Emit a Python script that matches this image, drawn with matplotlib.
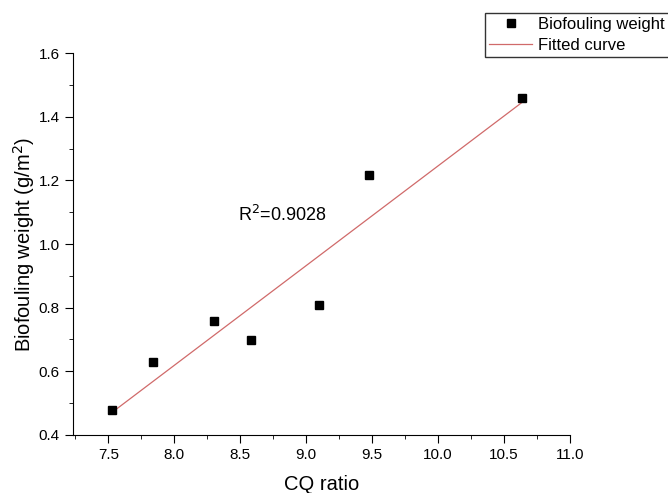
import numpy as np
import matplotlib
matplotlib.use("Agg")
import matplotlib.pyplot as plt
from matplotlib.ticker import MultipleLocator, FormatStrFormatter

plt.rcParams["font.family"] = ["Liberation Sans", "DejaVu Sans"]

cq = [7.53, 7.84, 8.30, 8.58, 9.10, 9.48, 10.64]
weight = [0.479, 0.628, 0.757, 0.698, 0.808, 1.217, 1.458]

fig = plt.figure(figsize=(6.68, 4.93), dpi=100)
ax = fig.add_axes([0.109, 0.118, 0.744, 0.774])

x = np.array(cq)
y = np.array(weight)
b, a = np.polyfit(x, y, deg=1)
xs = np.array([x.min(), x.max()])
ax.plot(x, y, "s", color="k", markersize=6, label="Biofouling weight", zorder=3)
ax.plot(xs, a + b * xs, color="#d06a6a", lw=0.9, label="Fitted curve", zorder=2)

ax.text(8.48, 1.09, "R$^2$=0.9028", fontsize=13, ha="left", va="center")

ax.set_xlim(7.23, 11.0)
ax.set_ylim(0.4, 1.6)
ax.xaxis.set_major_locator(MultipleLocator(0.5))
ax.xaxis.set_minor_locator(MultipleLocator(0.25))
ax.yaxis.set_major_locator(MultipleLocator(0.2))
ax.yaxis.set_minor_locator(MultipleLocator(0.1))
ax.xaxis.set_major_formatter(FormatStrFormatter("%.1f"))
ax.yaxis.set_major_formatter(FormatStrFormatter("%.1f"))
ax.spines["top"].set_visible(False)
ax.spines["right"].set_visible(False)
ax.tick_params(which="major", direction="out", length=6, labelsize=11)
ax.tick_params(which="minor", direction="out", length=3)
ax.set_xlabel("CQ ratio", fontsize=14.5, labelpad=9)
ax.set_ylabel("Biofouling weight (g/m$^2$)", fontsize=14.5, labelpad=1)

fig.legend(loc="upper left", bbox_to_anchor=(0.726, 0.974), fontsize=12,
           fancybox=False, edgecolor="#333333", handlelength=2.6,
           borderpad=0.25, labelspacing=0.35, handletextpad=0.35,
           borderaxespad=0, framealpha=1)

fig.savefig("out.png", dpi=100)
